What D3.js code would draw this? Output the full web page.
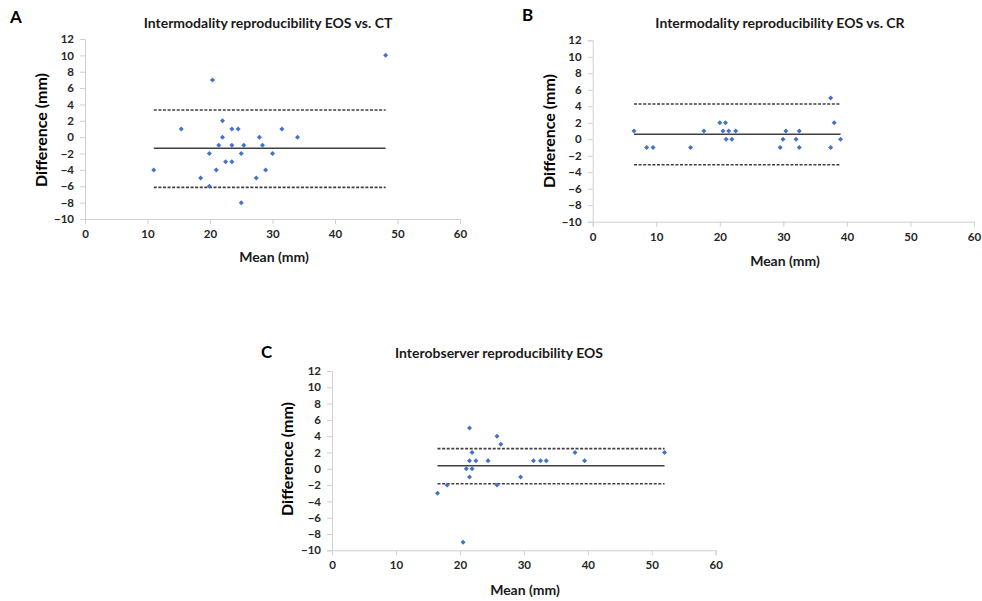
<!DOCTYPE html>
<html>
<head>
<meta charset="utf-8">
<script src="https://cdnjs.cloudflare.com/ajax/libs/d3/7.8.5/d3.min.js"></script>
<style>
  body { margin: 0; background: #fff; }
  text { font-family: "Lato", "Open Sans", sans-serif; font-weight: bold; }
</style>
</head>
<body>
<div id="chart"></div>
<script>
// axis ticks shared by all three panels
var xTicks = [0, 10, 20, 30, 40, 50, 60];
var yTicks = [-10, -8, -6, -4, -2, 0, 2, 4, 6, 8, 10, 12];

// A: EOS vs CT
var meanA = [11, 15.4, 18.5, 19.9, 19.9, 20.4, 21, 21.4, 22, 22, 22.5, 23.5, 23.5, 23.5, 24.5, 25, 25, 25.4, 27.4, 27.9, 28.4, 28.9, 30, 31.5, 34, 48.1];
var diffA = [-4, 1, -5, -2, -6, 7, -4, -1, 2, 0, -3, 1, -1, -3, 1, -2, -8, -1, -5, 0, -1, -4, -2, 1, 0, 10];
var limitsA = { bias: -1.36, upper: 3.32, lower: -6.13 };

// B: EOS vs CR
var meanB = [6.5, 8.5, 9.5, 15.4, 17.5, 20, 20.5, 20.9, 21, 21.4, 21.9, 22.5, 29.5, 29.95, 30.4, 32, 32.5, 32.5, 37.45, 37.45, 38, 39];
var diffB = [1, -1, -1, -1, 1, 2, 1, 2, 0, 1, 0, 1, -1, 0, 1, 0, 1, -1, 5, -1, 2, 0];
var limitsB = { bias: 0.6, upper: 4.27, lower: -3.09 };

// C: interobserver EOS
var meanC = [16.5, 18, 20.5, 21, 21.5, 21.5, 21.5, 21.9, 21.9, 22.5, 24.4, 25.8, 25.8, 26.4, 29.5, 31.5, 32.6, 33.5, 38, 39.5, 52];
var diffC = [-3, -2, -9, 0, 5, 1, -1, 2, 0, 1, 1, 4, -2, 3, -1, 1, 1, 1, 2, 1, 2];
var limitsC = { bias: 0.38, upper: 2.47, lower: -1.83 };

var svg = d3.select("#chart").append("svg")
    .attr("width", 982)
    .attr("height", 601);

function drawPanel(p) {
  var x = d3.scaleLinear().domain([0, 60]).range([p.left, p.right]);
  var y = d3.scaleLinear().domain([-10, 12]).range([p.bottom, p.top]);
  var g = svg.append("g");

  var xAxis = g.append("g")
    .attr("transform", "translate(0," + p.bottom + ")")
    .call(d3.axisBottom(x).tickValues(xTicks).tickSize(5).tickPadding(6));
  var yAxis = g.append("g")
    .attr("transform", "translate(" + p.left + ",0)")
    .call(d3.axisLeft(y).tickValues(yTicks).tickSize(5).tickPadding(6));

  [xAxis, yAxis].forEach(function (a) {
    a.selectAll("path, line").attr("stroke", "#d0d0d0");
    a.selectAll("text")
      .attr("fill", "#262626")
      .style("font-size", "11.5px")
      .style("font-family", "Lato, sans-serif")
      .style("font-weight", "bold");
  });

  var ext = d3.extent(p.mean);
  var lines = [
    { v: p.limits.upper, dash: "3,1.6" },
    { v: p.limits.bias, dash: null },
    { v: p.limits.lower, dash: "3,1.6" }
  ];
  g.selectAll("line.loa")
    .data(lines)
    .enter().append("line")
      .attr("class", "loa")
      .attr("x1", x(ext[0]))
      .attr("x2", x(ext[1]))
      .attr("y1", function (d) { return y(d.v); })
      .attr("y2", function (d) { return y(d.v); })
      .attr("stroke", "#404040")
      .attr("stroke-width", 1.6)
      .attr("stroke-dasharray", function (d) { return d.dash; });

  var pts = p.mean.map(function (m, i) { return [m, p.diff[i]]; });
  g.selectAll("path.dot")
    .data(pts)
    .enter().append("path")
      .attr("class", "dot")
      .attr("d", d3.symbol().type(d3.symbolDiamond2).size(16))
      .attr("transform", function (d) { return "translate(" + x(d[0]) + "," + y(d[1]) + ")"; })
      .attr("fill", "#4472c4");

  g.append("text")
    .text(p.title)
    .attr("x", p.titleX)
    .attr("y", p.titleY)
    .attr("text-anchor", "middle")
    .style("font-size", "14px")
    .attr("fill", "#1a1a1a");

  g.append("text")
    .text(p.letter)
    .attr("x", p.letterX)
    .attr("y", p.letterY)
    .style("font-size", "17px")
    .attr("fill", "#000");

  g.append("text")
    .text("Difference (mm)")
    .attr("transform", "translate(" + p.yLabX + "," + p.yLabY + ") rotate(-90)")
    .attr("text-anchor", "middle")
    .style("font-size", "16px")
    .attr("fill", "#000");

  g.append("text")
    .text("Mean (mm)")
    .attr("x", p.xLabX)
    .attr("y", p.xLabY)
    .attr("text-anchor", "middle")
    .style("font-size", "14px")
    .attr("fill", "#1a1a1a");
}

drawPanel({
  mean: meanA, diff: diffA, limits: limitsA,
  left: 85, right: 460, top: 39, bottom: 219,
  title: "Intermodality reproducibility EOS vs. CT", titleX: 268, titleY: 28,
  letter: "A", letterX: 10, letterY: 23,
  yLabX: 47, yLabY: 130, xLabX: 274, xLabY: 262
});

drawPanel({
  mean: meanB, diff: diffB, limits: limitsB,
  left: 592.7, right: 974, top: 40.3, bottom: 221.7,
  title: "Intermodality reproducibility EOS vs. CR", titleX: 780, titleY: 28,
  letter: "B", letterX: 522, letterY: 21,
  yLabX: 555, yLabY: 131, xLabX: 785, xLabY: 266
});

drawPanel({
  mean: meanC, diff: diffC, limits: limitsC,
  left: 332, right: 715.7, top: 371, bottom: 550.3,
  title: "Interobserver reproducibility EOS", titleX: 499, titleY: 358,
  letter: "C", letterX: 261, letterY: 358,
  yLabX: 293, yLabY: 459, xLabX: 525, xLabY: 595
});
</script>
</body>
</html>
